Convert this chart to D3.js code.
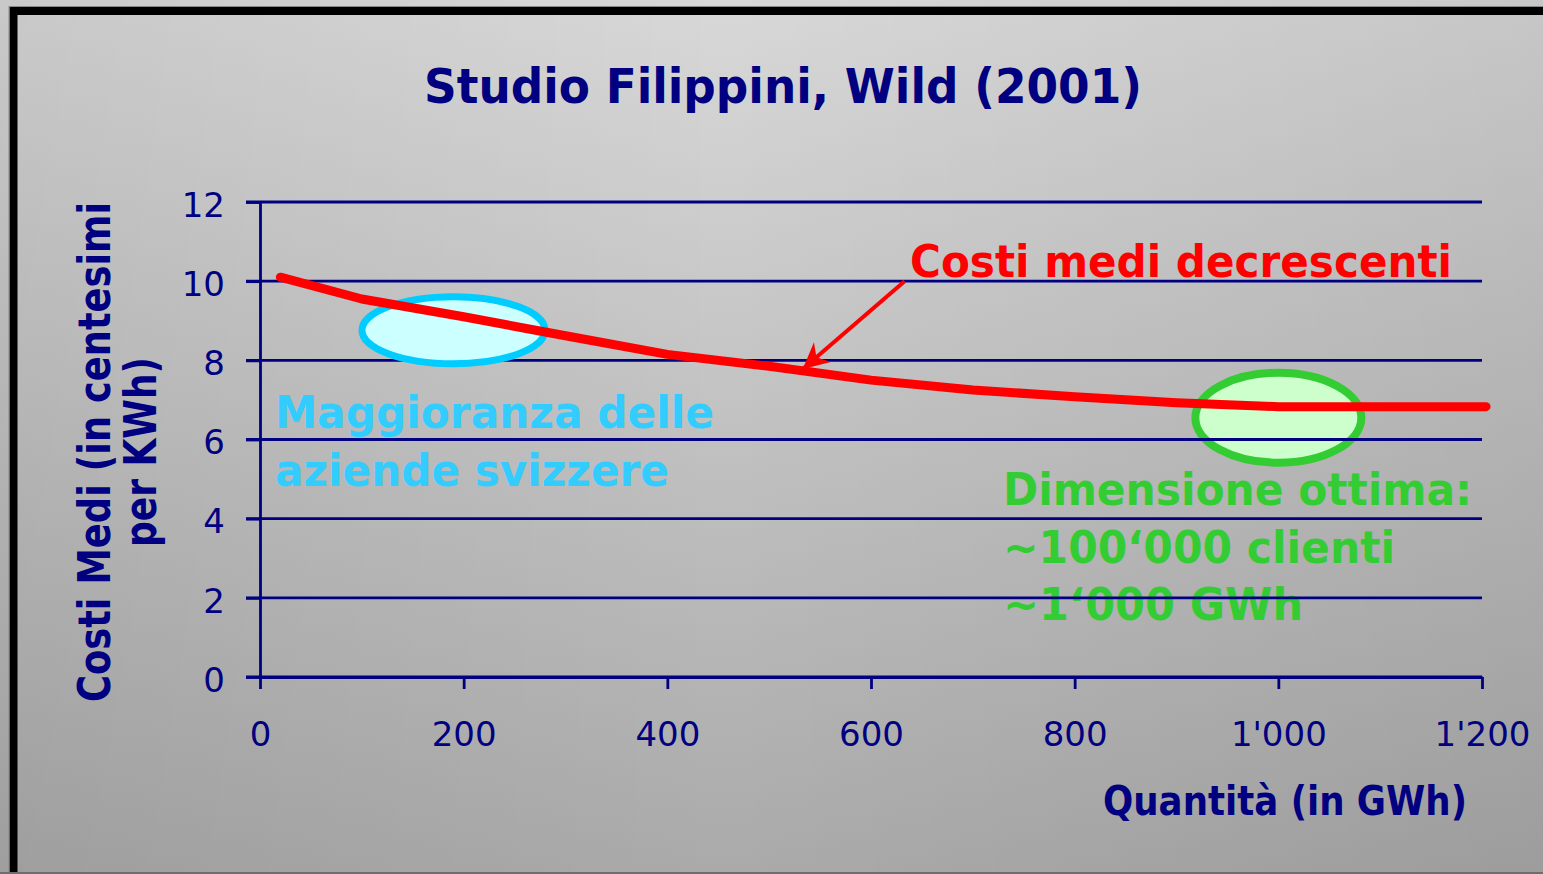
<!DOCTYPE html>
<html>
<head>
<meta charset="utf-8">
<script src="https://cdn.jsdelivr.net/npm/d3@7"></script>
<style>
  html, body { margin: 0; padding: 0; background: #c8c8c8; overflow: hidden; }
  svg { display: block; }
</style>
</head>
<body>
<div id="viz"></div>
<script>
// data
var quantity = [20, 100, 200, 300, 400, 500, 600, 700, 800, 900, 1000, 1100, 1204];
var avgCost  = [10.1, 9.55, 9.1, 8.62, 8.15, 7.85, 7.5, 7.25, 7.08, 6.93, 6.83, 6.83, 6.83];

var xTicks = [0, 200, 400, 600, 800, 1000, 1200];
var xTickLabels = ["0", "200", "400", "600", "800", "1'000", "1'200"];
var yTicks = [0, 2, 4, 6, 8, 10, 12];

var title = "Studio Filippini, Wild (2001)";
var yLabel = ["Costi Medi (in centesimi", "per KWh)"];
var xLabel = "Quantità (in GWh)";
var redNote = "Costi medi decrescenti";
var blueNote = ["Maggioranza delle", "aziende svizzere"];
var greenNote = ["Dimensione ottima:", "~100\u2018000 clienti", "~1\u2018000 GWh"];

// annotation anchors in data units
var blueSpot = {q: 190, c: 8.76};
var greenSpot = {q: 1000, c: 6.55};
var arrowFrom = {q: 633, c: 10};
var arrowTo = {q: 533, c: 7.78};

// set the dimensions
var W = 1543, H = 874;
var plot = {left: 260, right: 1482, top: 202, bottom: 677};
var navy = "#000080";
var bold = "'DejaVu Sans', Verdana, sans-serif";

var svg = d3.select("#viz")
  .append("svg")
    .attr("width", W)
    .attr("height", H);

var defs = svg.append("defs");

var vg = defs.append("linearGradient").attr("id", "bgV")
  .attr("x1", 0).attr("y1", 0).attr("x2", 0).attr("y2", 1);
vg.append("stop").attr("offset", 0).attr("stop-color", "#d8d8d8");
vg.append("stop").attr("offset", 1).attr("stop-color", "#aaaaaa");

var hg = defs.append("linearGradient").attr("id", "bgH")
  .attr("x1", 0).attr("y1", 0).attr("x2", 1).attr("y2", 0);
hg.append("stop").attr("offset", 0).attr("stop-color", "#000").attr("stop-opacity", 0.07);
hg.append("stop").attr("offset", 0.47).attr("stop-color", "#000").attr("stop-opacity", 0);
hg.append("stop").attr("offset", 1).attr("stop-color", "#000").attr("stop-opacity", 0.08);

defs.append("marker")
    .attr("id", "head")
    .attr("markerUnits", "userSpaceOnUse")
    .attr("viewBox", "-30 -16 32 32")
    .attr("refX", 0).attr("refY", 0)
    .attr("markerWidth", 32).attr("markerHeight", 32)
    .attr("orient", "auto")
  .append("path")
    .attr("d", "M0,0 L-26,-13 L-18,0 L-26,13 Z")
    .attr("fill", "#ff0000");

// background + frame
svg.append("rect").attr("width", W).attr("height", H).attr("fill", "url(#bgV)");
svg.append("rect").attr("width", W).attr("height", H).attr("fill", "url(#bgH)");
svg.append("rect")
    .attr("x", 13.5).attr("y", 11).attr("width", W + 40).attr("height", H + 40)
    .attr("fill", "none").attr("stroke", "#000").attr("stroke-width", 8);
svg.append("rect")
    .attr("x", 9).attr("y", 6.5).attr("width", W + 40).attr("height", H + 40)
    .attr("fill", "none").attr("stroke", "#888").attr("stroke-width", 1);
svg.append("rect").attr("x", 0).attr("y", 872).attr("width", W).attr("height", 2).attr("fill", "#6e6e6e");

// scales
var x = d3.scaleLinear().domain([0, 1200]).range([plot.left, plot.right]);
var y = d3.scaleLinear().domain([0, 12]).range([plot.bottom, plot.top]);

// green ellipse sits under the grid
svg.append("ellipse")
    .attr("cx", x(greenSpot.q)).attr("cy", y(greenSpot.c))
    .attr("rx", 83).attr("ry", 45)
    .attr("fill", "#ccffcc").attr("stroke", "#33cc33").attr("stroke-width", 8);

// notes under the grid
function note(lines, x0, y0, step, color, widths) {
  lines.forEach(function(t, i) {
    svg.append("text")
      .attr("x", x0).attr("y", y0 + i * step)
      .attr("fill", color)
      .attr("font-family", bold).attr("font-weight", "bold").attr("font-size", 44)
      .attr("textLength", widths[i]).attr("lengthAdjust", "spacingAndGlyphs")
      .text(t);
  });
}
note(greenNote, 1003, 505, 57.5, "#33cc33", [469, 392, 300]);
note(blueNote, 275, 428, 58, "#33ccff", [439, 394]);

// grid lines
svg.append("g")
  .selectAll("line")
  .data(yTicks)
  .enter().append("line")
    .attr("x1", plot.left - 14).attr("x2", plot.right)
    .attr("y1", function(d) { return y(d); })
    .attr("y2", function(d) { return y(d); })
    .attr("stroke", navy).attr("stroke-width", 2.8);

// axes
var yAxis = svg.append("g")
    .attr("transform", "translate(" + plot.left + ",0)")
    .call(d3.axisLeft(y).tickValues(yTicks).tickSize(14).tickSizeOuter(0).tickPadding(21));
var xAxis = svg.append("g")
    .attr("transform", "translate(0," + plot.bottom + ")")
    .call(d3.axisBottom(x).tickValues(xTicks).tickSize(12).tickSizeOuter(0).tickPadding(33)
      .tickFormat(function(d, i) { return xTickLabels[i]; }));

[yAxis, xAxis].forEach(function(g) {
  g.selectAll("path, line").attr("stroke", navy).attr("stroke-width", 2.8);
  g.selectAll("text")
    .attr("fill", navy)
    .attr("font-family", "'DejaVu Sans', Verdana, sans-serif")
    .attr("font-size", 34);
});
yAxis.selectAll("text").attr("dy", "0.42em");

// cyan ellipse covers the grid
svg.append("ellipse")
    .attr("cx", x(blueSpot.q)).attr("cy", y(blueSpot.c))
    .attr("rx", 91.5).attr("ry", 33.5)
    .attr("fill", "#ccffff").attr("stroke", "#00ccff").attr("stroke-width", 7);

// cost curve
var pts = quantity.map(function(q, i) { return [q, avgCost[i]]; });
svg.append("path")
    .datum(pts)
    .attr("fill", "none")
    .attr("stroke", "#ff0000")
    .attr("stroke-width", 9)
    .attr("stroke-linecap", "round")
    .attr("stroke-linejoin", "round")
    .attr("d", d3.line()
      .x(function(d) { return x(d[0]); })
      .y(function(d) { return y(d[1]); }));

// arrow
svg.append("line")
    .attr("x1", x(arrowFrom.q)).attr("y1", y(arrowFrom.c))
    .attr("x2", x(arrowTo.q)).attr("y2", y(arrowTo.c))
    .attr("stroke", "#ff0000").attr("stroke-width", 4)
    .attr("marker-end", "url(#head)");

svg.append("text")
    .attr("x", 910).attr("y", 277)
    .attr("fill", "#ff0000")
    .attr("font-family", bold).attr("font-weight", "bold").attr("font-size", 44)
    .attr("textLength", 542).attr("lengthAdjust", "spacingAndGlyphs")
    .text(redNote);

// title + axis labels
svg.append("text")
    .attr("x", 424).attr("y", 103)
    .attr("fill", navy)
    .attr("font-family", bold).attr("font-weight", "bold").attr("font-size", 48)
    .attr("textLength", 718).attr("lengthAdjust", "spacingAndGlyphs")
    .text(title);

svg.append("text")
    .attr("x", 1103).attr("y", 815)
    .attr("fill", navy)
    .attr("font-family", bold).attr("font-weight", "bold").attr("font-size", 40)
    .attr("textLength", 364).attr("lengthAdjust", "spacingAndGlyphs")
    .text(xLabel);

var yLabelWidths = [500, 190];
yLabel.forEach(function(t, i) {
  svg.append("text")
    .attr("transform", "translate(" + (110 + i * 46) + "," + (452 + yLabelWidths[i] / 2) + ") rotate(-90)")
    .attr("fill", navy)
    .attr("font-family", bold).attr("font-weight", "bold").attr("font-size", 44)
    .attr("textLength", yLabelWidths[i]).attr("lengthAdjust", "spacingAndGlyphs")
    .text(t);
});
</script>
</body>
</html>
